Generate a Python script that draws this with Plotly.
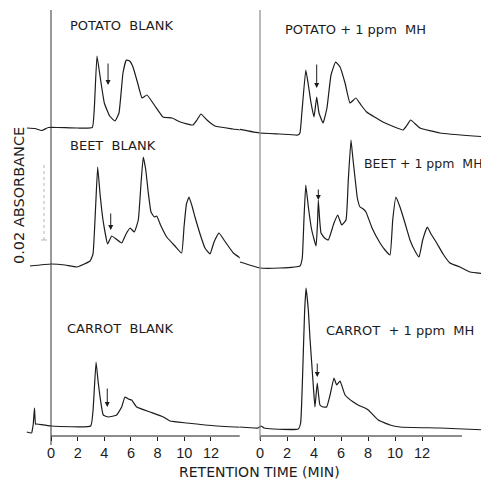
import plotly.graph_objects as go

# The page body has an 8px margin, so the figure is made 8px smaller and every
# reference pixel position is shifted by that offset.
OFF = 8
REF_W, REF_H = 489, 480
W, H = REF_W - OFF, REF_H - OFF

# ---------------- data (retention time in min, detector signal in arbitrary units above baseline) ----------------
potato_blank_t = [-1.8, -1.2, -0.7, -0.2, 0.5, 2.0, 3.1, 3.25, 3.45, 3.7, 4.0, 4.4, 4.8, 5.1, 5.4, 5.65, 5.9, 6.15,
                  6.5, 6.83, 7.2, 7.8, 8.4, 9.08, 9.7, 10.65, 10.95, 11.25, 11.7, 12.3, 13.65, 15.45]
potato_blank_v = [0, -0.5, -2.5, 0.5, 0.5, 0, 0.5, 20, 72, 50, 25, 12, 7, 15, 55, 68, 67, 61,
                  45, 30, 33, 22, 11, 10, 6, 3, 8, 14, 8, 2, -1, -4]

potato_mh_t = [-1.48, 0, 1.48, 2.81, 2.96, 3.1, 3.39, 3.56, 3.78, 4.0, 4.2, 4.37, 4.67, 4.96, 5.26, 5.6, 5.93,
               6.3, 6.67, 7.1, 7.48, 7.9, 9.1, 10.6, 10.9, 11.16, 11.85, 13.33, 15.8, 16.96]
potato_mh_v = [3.7, 0, -1, -2, 0, 20, 63, 50, 30, 16, 36, 20, 10, 25, 58, 71, 66,
               50, 30, 35, 28, 21, 11, 3, 8, 13, 5, 0, -3, -4]

beet_blank_t = [-1.58, 0, 1.05, 1.95, 2.93, 3.15, 3.34, 3.5, 3.68, 3.9, 4.25, 4.55, 4.88, 5.3, 5.63, 5.93, 6.25,
                6.55, 6.75, 6.92, 7.1, 7.3, 7.5, 7.75, 7.93, 8.25, 8.68, 9.3, 9.8, 9.98, 10.16, 10.35, 10.58,
                10.8, 11.18, 11.55, 11.93, 12.23, 12.6, 12.98, 13.68, 14.55, 15.53]
beet_blank_v = [-2, 0, -1, -3, 3, 10, 55, 97, 70, 44, 20, 28, 25, 21, 30, 36, 32,
                44, 80, 107, 95, 71, 52, 47, 48, 38, 27, 18, 11, 37, 60, 67, 58,
                47, 30, 16, 10, 22, 31, 24, 11, 3, -3]

beet_mh_t = [-1.48, 0, 1.48, 2.96, 3.13, 3.26, 3.39, 3.59, 3.83, 4.15, 4.26, 4.32, 4.41, 4.52, 4.78, 5.06, 5.48,
             5.76, 6.05, 6.37, 6.54, 6.74, 6.87, 7.04, 7.21, 7.41, 7.65, 7.85, 8.3, 8.89, 9.26, 9.63, 9.83,
             10.07, 10.37, 10.74, 11.11, 11.48, 11.78, 12.05, 12.39, 12.67, 13.09, 13.56, 14.07, 14.81, 15.56, 16.96]
beet_mh_v = [6, 0, 0, 2, 10, 50, 83, 60, 38, 22, 45, 68, 50, 35, 30, 28, 45,
             53, 43, 48, 88, 128, 111, 90, 70, 61, 59, 56, 40, 25, 18, 13, 48,
             71, 61, 45, 28, 17, 11, 28, 41, 34, 25, 14, 5, 1, -4, -6]

carrot_blank_t = [-1.82, -1.45, -1.39, -1.33, -1.24, -1.16, -1.05, 0, 2.98, 3.15, 3.38, 3.53, 3.68, 3.92, 4.3,
                  4.93, 5.3, 5.55, 5.8, 6.05, 6.43, 7.43, 8.43, 8.93, 10.18, 12.43, 15.68]
carrot_blank_v = [-6, -7, -3, 2, 18, 2, 2, 0, 0, 15, 64, 45, 29, 11, 9,
                  11, 19, 29, 27, 26, 19, 14, 9, 5, 3, 0, -2]

carrot_mh_t = [-1.48, -0.15, 0.07, 0.3, 0.99, 2.84, 3.01, 3.15, 3.3, 3.41, 3.58, 3.7, 3.83, 3.96, 4.07, 4.24,
               4.44, 4.67, 4.94, 5.19, 5.48, 5.68, 5.93, 6.3, 6.91, 7.41, 7.78, 8.02, 8.76, 9.63, 10.37, 13.33, 16.79]
carrot_mh_v = [1, 0, 2, 0, -1, -1, 5, 50, 115, 140, 118, 90, 65, 40, 21, 45,
               23, 21, 21, 33, 50, 43, 47, 33, 26, 22, 20, 18, 8, 3, 1, 0, -2]

tick_vals = [0, 2, 4, 6, 8, 10, 12]
tick_text = ["0", "2", "4", "6", "8", "10", "12"]
axis_end_left = 14.7    # min, end of drawn time axis in left panel
axis_end_right = 14.96  # min, end of drawn time axis in right panel

labels = ["POTATO  BLANK", "POTATO + 1 ppm  MH", "BEET  BLANK", "BEET + 1 ppm  MH",
          "CARROT  BLANK", "CARROT  + 1 ppm  MH"]
y_title = "0.02 ABSORBANCE"
x_title = "RETENTION TIME (MIN)"

# ---------------- layout helpers (reference pixel geometry) ----------------
def py(p):  # reference pixel-from-top -> y data (1 unit = 1 px)
    return H - (p - OFF)

def fx(p):  # reference pixel-from-left -> paper x
    return (p - OFF) / W

def fy(p):  # reference pixel-from-top -> paper y
    return (H - (p - OFF)) / H

INK = "#1c1c1c"
FONT = "DejaVu Sans, Verdana, sans-serif"
TFONT = "Liberation Sans, Arial, sans-serif"

# left panel: t=0 at x=51 px, 13.33 px/min ; right panel: t=0 at x=260 px, 13.5 px/min
L0, LS = 51.0, 13.33
R0, RS = 260.0, 13.5
l_range = [-2.0, 15.5]
r_range = [-1.5, (REF_W - R0) / RS]
l_dom = [fx(L0 + l_range[0] * LS), fx(L0 + l_range[1] * LS)]
r_dom = [fx(R0 + r_range[0] * RS), 1.0]
AXIS_Y = 436  # reference pixel row of the time axes

fig = go.Figure()

def add(t, v, base_px, axis):
    fig.add_trace(go.Scatter(x=t, y=[py(base_px) + a for a in v], mode="lines",
                             line=dict(color=INK, width=1.2, shape="spline", smoothing=0.35),
                             xaxis=axis, yaxis="y", hoverinfo="skip", showlegend=False))

add(potato_blank_t, potato_blank_v, 128, "x")
add(beet_blank_t, beet_blank_v, 264, "x")
add(carrot_blank_t, carrot_blank_v, 426, "x")
add(potato_mh_t, potato_mh_v, 133, "x2")
add(beet_mh_t, beet_mh_v, 268, "x2")
add(carrot_mh_t, carrot_mh_v, 428, "x2")

# time axis base lines (from t = 0 to the end of each axis)
for axis, end in (("x", axis_end_left), ("x2", axis_end_right)):
    fig.add_trace(go.Scatter(x=[tick_vals[0], end], y=[py(AXIS_Y), py(AXIS_Y)], mode="lines",
                             line=dict(color=INK, width=1.1), xaxis=axis, yaxis="y",
                             hoverinfo="skip", showlegend=False))

shapes = []
# vertical injection lines at t = 0
shapes.append(dict(type="line", xref="x", yref="y", x0=0, x1=0, y0=py(10), y1=py(445),
                   line=dict(color="#333333", width=1)))
shapes.append(dict(type="line", xref="x2", yref="y", x0=0, x1=0, y0=py(10), y1=py(440),
                   line=dict(color="#8a8a8a", width=1.2)))
# faint absorbance scale bar
shapes.append(dict(type="line", xref="paper", yref="y", x0=fx(44), x1=fx(44), y0=py(165), y1=py(240),
                   line=dict(color="#b5b5b5", width=1, dash="dot")))
shapes.append(dict(type="line", xref="paper", yref="y", x0=fx(41), x1=fx(47), y0=py(240), y1=py(240),
                   line=dict(color="#b5b5b5", width=1)))

annotations = []
# panel labels (reference x px, anchor, y px of centre, font size)
label_pos = [(68, "left", 25, 13), (283, "left", 30, 13), (68, "left", 145, 13), (362, "left", 163, 12.5),
             (65, "left", 328, 13), (476, "right", 330, 13)]
for text, (xp, anc, yp, fs) in zip(labels, label_pos):
    annotations.append(dict(text=text, xref="paper", yref="paper", x=fx(xp), y=fy(yp), xanchor=anc,
                            yanchor="middle", showarrow=False, font=dict(family=FONT, size=fs, color=INK)))

# arrows marking the MH retention position (tip position in data, tail length in px)
arrows = [("x", 4.28, 85, 23), ("x2", 4.2, 88, 25), ("x", 4.48, 230, 18),
          ("x2", 4.32, 200, 12), ("x", 4.22, 407, 20), ("x2", 4.24, 377, 15)]
for ax_, tt, tip_px, length in arrows:
    annotations.append(dict(x=tt, y=py(tip_px), xref=ax_, yref="y", text="", showarrow=True,
                            arrowhead=2, arrowsize=1, arrowwidth=1, arrowcolor=INK,
                            ax=0, ay=-length))

annotations.append(dict(text=x_title, xref="paper", yref="paper", x=fx(259), y=fy(471.5),
                        xanchor="center", yanchor="middle", showarrow=False,
                        font=dict(family=FONT, size=14, color=INK)))
annotations.append(dict(text=y_title, xref="paper", yref="paper", x=fx(19), y=fy(196),
                        xanchor="center", yanchor="middle", textangle=-90, showarrow=False,
                        font=dict(family=FONT, size=14.5, color=INK)))

axis_common = dict(showgrid=False, zeroline=False, showline=False, ticks="outside", ticklen=4,
                   tickcolor=INK, tickwidth=1, tickvals=tick_vals, ticktext=tick_text,
                   tickfont=dict(family=TFONT, size=14.5, color=INK), anchor="free",
                   position=fy(AXIS_Y), fixedrange=True)

fig.update_layout(
    width=W, height=H, margin=dict(l=0, r=0, t=0, b=0),
    paper_bgcolor="white", plot_bgcolor="white",
    xaxis=dict(domain=l_dom, range=l_range, **axis_common),
    xaxis2=dict(domain=r_dom, range=r_range, **axis_common),
    yaxis=dict(range=[0, H], visible=False, fixedrange=True),
    shapes=shapes, annotations=annotations, showlegend=False,
)

fig.write_html("out.html")
